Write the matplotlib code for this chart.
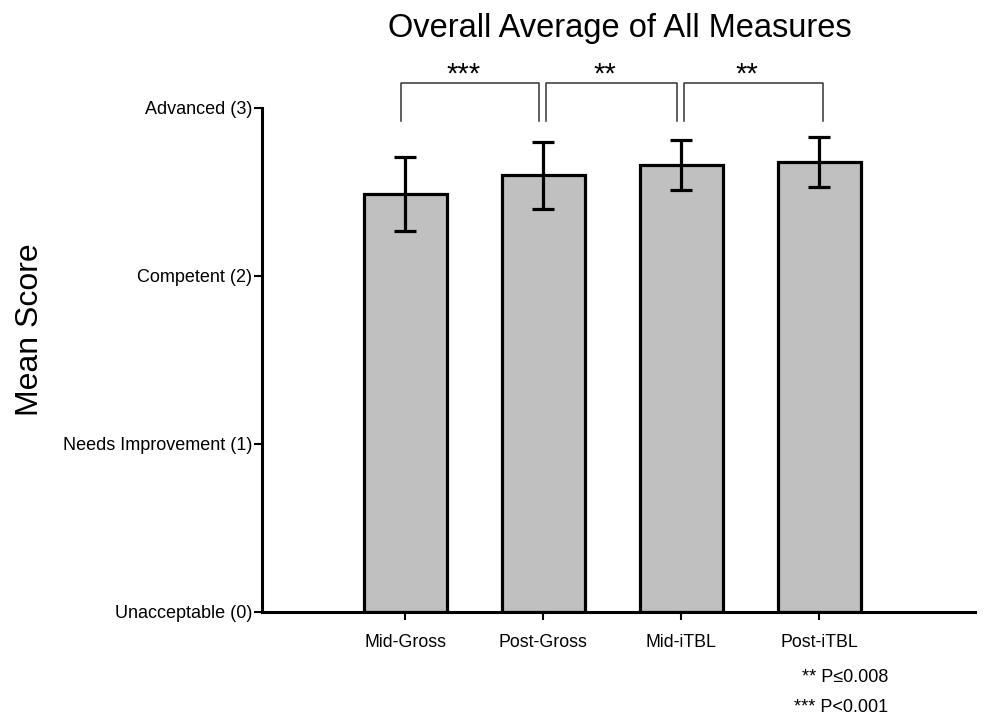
import matplotlib
matplotlib.use("Agg")
import matplotlib.pyplot as plt

plt.rcParams['font.family'] = ['Liberation Sans', 'DejaVu Sans']

categories = ["Mid-Gross", "Post-Gross", "Mid-iTBL", "Post-iTBL"]
means = [2.49, 2.60, 2.66, 2.68]
errors = [0.22, 0.20, 0.15, 0.15]
ytick_values = [0, 1, 2, 3]
ytick_labels = ["Unacceptable (0)", "Needs Improvement (1)", "Competent (2)", "Advanced (3)"]
comparisons = [(0, 1, "***"), (1, 2, "**"), (2, 3, "**")]
footnotes = ["** P\u22640.008", "*** P<0.001"]

fig = plt.figure(figsize=(9.92, 7.18), dpi=100)
ax = fig.add_axes([262/992, 1-612/718, (975-262)/992, (612-108)/718])

x = list(range(len(categories)))
ax.bar(x, means, width=0.6, color="#c0c0c0", edgecolor="black", linewidth=2.3, zorder=2)
ax.errorbar(x, means, yerr=errors, fmt="none", ecolor="black", elinewidth=2.3,
            capsize=8, capthick=2.3, zorder=3)

ax.set_xlim(-1.04, 4.13)
ax.set_ylim(0, 3)
ax.set_xticks(x)
ax.set_xticklabels(categories, fontsize=12.8)
ax.set_yticks(ytick_values)
ax.set_yticklabels(ytick_labels, fontsize=13)
ax.tick_params(axis='both', direction='out', length=6, width=1.5)
ax.tick_params(axis='x', pad=10)
ax.tick_params(axis='y', pad=1)

for s in ['top', 'right']:
    ax.spines[s].set_visible(False)
for s in ['left', 'bottom']:
    ax.spines[s].set_linewidth(2.2)

fig.text(30/992, 1-330/718, "Mean Score", fontsize=23, rotation=90,
         ha='center', va='center')
fig.text(620/992, 1-28/718, "Overall Average of All Measures", fontsize=23.5,
         ha='center', va='center')

# significance brackets
top_y = 3.15
leg_y = 2.92
for i, j, stars in comparisons:
    x0 = i - 0.03 if i == 0 else i + 0.02
    x1 = j - 0.03 if j < 3 else j + 0.03
    ax.plot([x0, x0, x1, x1], [leg_y, top_y, top_y, leg_y], color="#333333",
            linewidth=1.1, clip_on=False)
    ax.text((x0 + x1) / 2 - 0.05, top_y, stars, ha='center', va='baseline',
            fontsize=21, clip_on=False)

for k, t in enumerate(footnotes):
    fig.text(888/992, 1-(677 + 30*k)/718, t, ha='right', va='center', fontsize=13)

fig.savefig("out.png", dpi=100)
